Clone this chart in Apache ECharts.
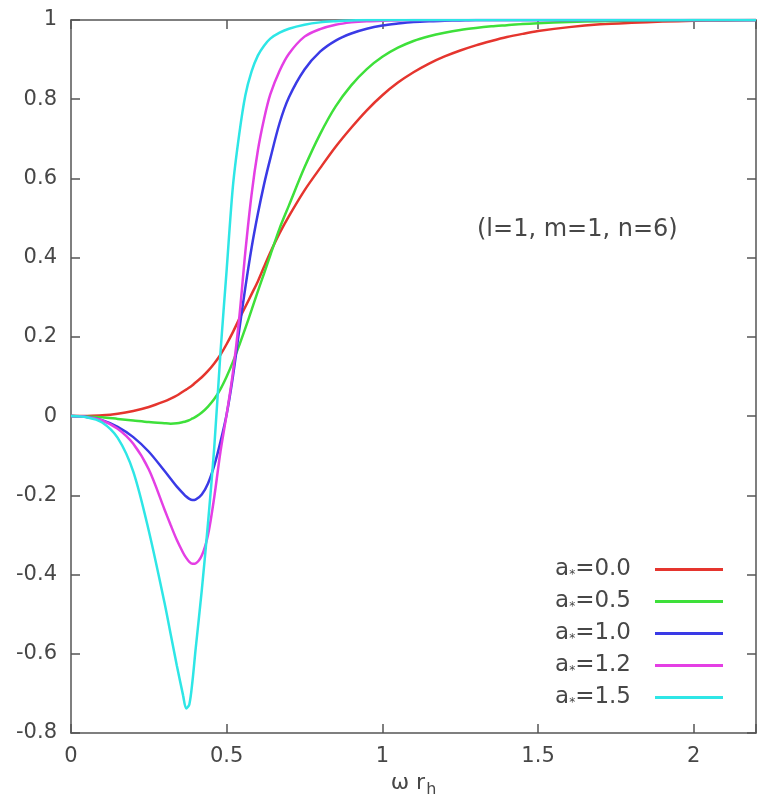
<!DOCTYPE html>
<html>
<head>
<meta charset="utf-8">
<script src="https://cdn.jsdelivr.net/npm/echarts@6/dist/echarts.min.js"></script>
<style>
  html, body { margin: 0; padding: 0; background: #ffffff; }
  #chart { width: 759px; height: 806px; }
</style>
</head>
<body>
<div id="chart"></div>
<script>
// Frequency samples (omega * r_h)
const xValues = [0, 0.05, 0.1, 0.15, 0.2, 0.25, 0.3, 0.32, 0.34, 0.36, 0.37, 0.38, 0.39, 0.4,
  0.42, 0.44, 0.46, 0.48, 0.5, 0.52, 0.54, 0.56, 0.58, 0.6,
  0.62, 0.64, 0.67, 0.7, 0.75, 0.8, 0.85, 0.9, 0.95, 1.0,
  1.05, 1.1, 1.15, 1.2, 1.25, 1.3, 1.35, 1.4, 1.45, 1.5,
  1.6, 1.7, 1.8, 1.9, 2.0, 2.1, 2.2];

// Curves for each rotation parameter a*
const spin00 = [0, 0.0005, 0.002, 0.006, 0.013, 0.023, 0.037, 0.044, 0.052, 0.062, 0.067, 0.072, 0.078, 0.085,
  0.098, 0.114, 0.133, 0.155, 0.182, 0.212, 0.245, 0.276, 0.308, 0.34,
  0.377, 0.413, 0.462, 0.505, 0.57, 0.626, 0.68, 0.728, 0.772, 0.81,
  0.842, 0.868, 0.89, 0.908, 0.923, 0.936, 0.947, 0.957, 0.965, 0.972,
  0.982, 0.989, 0.993, 0.996, 0.998, 0.999, 1.0];
const spin05 = [0, -0.001, -0.003, -0.007, -0.011, -0.015, -0.018, -0.019, -0.018, -0.015, -0.013, -0.01, -0.006, -0.002,
  0.009, 0.024, 0.043, 0.068, 0.1, 0.137, 0.178, 0.222, 0.268, 0.315,
  0.36, 0.406, 0.474, 0.532, 0.628, 0.712, 0.782, 0.835, 0.876, 0.907,
  0.93, 0.947, 0.959, 0.968, 0.975, 0.98, 0.984, 0.987, 0.99, 0.992,
  0.995, 0.997, 0.998, 0.999, 1.0, 1.0, 1.0];
const spin10 = [0, -0.002, -0.01, -0.027, -0.053, -0.09, -0.138, -0.158, -0.178, -0.195, -0.203, -0.209, -0.212, -0.211,
  -0.198, -0.17, -0.125, -0.065, 0.005, 0.1, 0.215, 0.325, 0.425, 0.51,
  0.585, 0.65, 0.74, 0.805, 0.875, 0.92, 0.948, 0.966, 0.978, 0.986,
  0.991, 0.995, 0.997, 0.998, 0.999, 1.0, 1.0, 1.0, 1.0, 1.0,
  1.0, 1.0, 1.0, 1.0, 1.0, 1.0, 1.0];
const spin12 = [0, -0.002, -0.011, -0.032, -0.07, -0.135, -0.235, -0.275, -0.313, -0.345, -0.358, -0.368, -0.373, -0.372,
  -0.352, -0.3, -0.205, -0.09, 0.005, 0.11, 0.245, 0.415, 0.56, 0.67,
  0.75, 0.812, 0.872, 0.915, 0.958, 0.977, 0.988, 0.994, 0.997, 0.998,
  0.999, 1.0, 1.0, 1.0, 1.0, 1.0, 1.0, 1.0, 1.0, 1.0,
  1.0, 1.0, 1.0, 1.0, 1.0, 1.0, 1.0];
const spin15 = [0, -0.003, -0.016, -0.055, -0.14, -0.29, -0.47, -0.55, -0.63, -0.705, -0.738, -0.728, -0.67, -0.59,
  -0.44, -0.27, -0.08, 0.16, 0.37, 0.58, 0.71, 0.81, 0.87, 0.91,
  0.935, 0.953, 0.968, 0.978, 0.988, 0.994, 0.997, 0.999, 1.0, 1.0,
  1.0, 1.0, 1.0, 1.0, 1.0, 1.0, 1.0, 1.0, 1.0, 1.0,
  1.0, 1.0, 1.0, 1.0, 1.0, 1.0, 1.0];

const spinLabels = ['0.0', '0.5', '1.0', '1.2', '1.5'];
const spinCurves = [spin00, spin05, spin10, spin12, spin15];
const lineColors = ['#e5352e', '#3ee03a', '#3a3ae6', '#e43fe4', '#2ee6e6'];

const xTicks = [0, 0.5, 1, 1.5, 2];
const annotation = '(l=1, m=1, n=6)';

const FONT = 'DejaVu Sans';
const TEXT_COLOR = '#474747';
const AXIS_COLOR = '#555555';

const chart = echarts.init(document.getElementById('chart'), null, { renderer: 'canvas' });

const series = spinCurves.map((ys, k) => ({
  name: 'a*=' + spinLabels[k],
  type: 'line',
  data: xValues.map((x, i) => [x, ys[i]]),
  showSymbol: false,
  smooth: 0.3,
  lineStyle: { color: lineColors[k], width: 2.5 },
  itemStyle: { color: lineColors[k] },
  z: 2 + k
}));

const axisTickStyle = { inside: true, length: 9, lineStyle: { color: AXIS_COLOR, width: 1.5 } };
const axisLineStyle = { show: true, onZero: false, lineStyle: { color: AXIS_COLOR, width: 1.5 } };

const option = {
  animation: false,
  backgroundColor: '#ffffff',
  grid: { left: 71, right: 3, top: 20, bottom: 73 },
  xAxis: [{
    type: 'value', min: 0, max: 2.2, interval: 0.5,
    axisLine: axisLineStyle, axisTick: axisTickStyle, splitLine: { show: false },
    axisLabel: {
      color: TEXT_COLOR, fontFamily: FONT, fontSize: 21, margin: 13,
      formatter: v => (xTicks.some(t => Math.abs(t - v) < 1e-9) ? String(v) : '')
    },
    name: '{w|ω r}{h|h}', nameLocation: 'middle', nameGap: 25,
    nameTextStyle: {
      rich: {
        w: { fontFamily: FONT, fontSize: 22, color: TEXT_COLOR },
        h: { fontFamily: FONT, fontSize: 16, color: TEXT_COLOR, padding: [14, 0, 0, 1] }
      }
    }
  }, {
    type: 'value', position: 'top', min: 0, max: 2.2, interval: 0.5,
    axisLine: axisLineStyle, axisTick: axisTickStyle, axisLabel: { show: false }, splitLine: { show: false }
  }],
  yAxis: [{
    type: 'value', min: -0.8, max: 1, interval: 0.2,
    axisLine: axisLineStyle, axisTick: axisTickStyle, splitLine: { show: false },
    axisLabel: { color: TEXT_COLOR, fontFamily: FONT, fontSize: 21, margin: 14 }
  }, {
    type: 'value', position: 'right', min: -0.8, max: 1, interval: 0.2,
    axisLine: axisLineStyle, axisTick: axisTickStyle, axisLabel: { show: false }, splitLine: { show: false }
  }],
  legend: {
    orient: 'vertical', align: 'right', right: 31, top: 552,
    icon: 'rect', itemWidth: 68, itemHeight: 3, itemGap: 7,
    data: series.map(s => s.name),
    formatter: name => '{a|a}{s|*}{b|' + name.slice(2) + '}',
    textStyle: {
      color: TEXT_COLOR, fontFamily: FONT, fontSize: 23, lineHeight: 25, padding: [0, 19, 0, 0],
      rich: {
        a: { fontFamily: FONT, fontSize: 23, color: TEXT_COLOR },
        s: { fontFamily: FONT, fontSize: 12, color: TEXT_COLOR, padding: [10, 0, 0, 0] },
        b: { fontFamily: FONT, fontSize: 23, color: TEXT_COLOR }
      }
    }
  },
  graphic: [{
    type: 'text', left: 477, top: 218,
    style: { text: annotation, fontFamily: FONT, fontSize: 24, fill: TEXT_COLOR }
  }],
  series: series
};

chart.setOption(option);
</script>
</body>
</html>
